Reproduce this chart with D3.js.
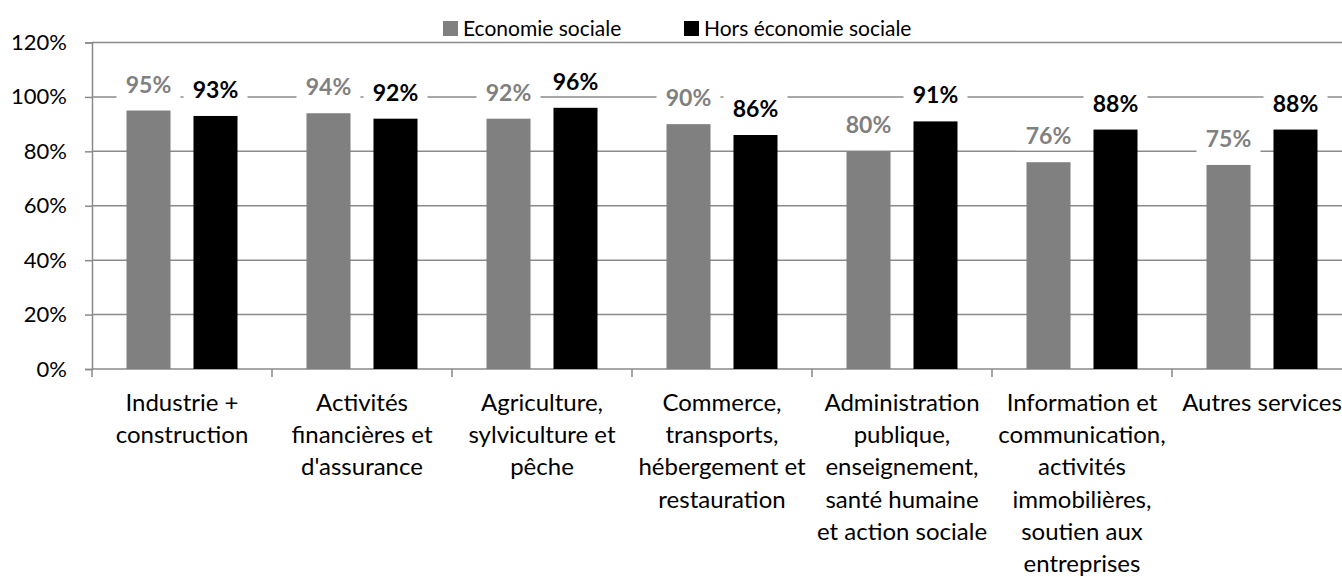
<!DOCTYPE html>
<html>
<head>
<meta charset="utf-8">
<script src="https://cdnjs.cloudflare.com/ajax/libs/d3/7.8.5/d3.min.js"></script>
<style>
body{margin:0;background:#fff;}
svg{display:block;font-family:Lato,"Open Sans",sans-serif;}
.grid line{stroke:#8a8a8a;stroke-width:1.5;}
.tick text{fill:#000;}
</style>
</head>
<body>
<svg id="chart" width="1342" height="577"></svg>
<script>
var svgWidth=1342;
var svgHeight=577;
var plotLeft=92, plotRight=1352, plotTop=42.5, plotBottom=369;

var categories=[
    ["Industrie +","construction"],
    ["Activités","financières et","d'assurance"],
    ["Agriculture,","sylviculture et","pêche"],
    ["Commerce,","transports,","hébergement et","restauration"],
    ["Administration","publique,","enseignement,","santé humaine","et action sociale"],
    ["Information et","communication,","activités","immobilières,","soutien aux","entreprises"],
    ["Autres services"]
];
var seriesNames=["Economie sociale","Hors économie sociale"];
var seriesColors=["#808080","#000000"];
var ecoSociale=[95,94,92,90,80,76,75];
var horsEco=[93,92,96,86,91,88,88];
var yTicks=[0,20,40,60,80,100,120];

var svg=d3.select("#chart");
var catIdx=d3.range(categories.length);

var x=d3.scaleBand().domain(catIdx).range([plotLeft,plotRight]);
var xSub=d3.scaleBand().domain([0,1]).range([0,x.bandwidth()]).paddingInner(0.343).paddingOuter(0.515);
var y=d3.scaleLinear().domain([0,120]).range([plotBottom,plotTop]);

// grid
svg.append("g").attr("class","grid")
    .selectAll("line").data(yTicks.slice(1)).enter()
    .append("line")
    .attr("x1",plotLeft).attr("x2",plotRight)
    .attr("y1",function(d){return y(d);}).attr("y2",function(d){return y(d);});

// y axis
var yAxis=svg.append("g")
    .attr("transform","translate("+plotLeft+",0)")
    .call(d3.axisLeft(y).tickValues(yTicks).tickSize(7).tickPadding(18).tickFormat(function(d){return d+"%";}));
yAxis.select(".domain").attr("stroke","#8a8a8a").attr("stroke-width",1.5);
yAxis.selectAll(".tick line").attr("stroke","#8a8a8a").attr("stroke-width",1.5);
yAxis.selectAll(".tick text").attr("font-size",22).attr("font-family","Lato");

// x axis line + ticks at band edges
svg.append("line").attr("x1",plotLeft).attr("x2",plotRight).attr("y1",plotBottom).attr("y2",plotBottom)
    .attr("stroke","#8a8a8a").attr("stroke-width",1.5);
svg.append("g").selectAll("line").data(d3.range(categories.length+1)).enter()
    .append("line")
    .attr("x1",function(d){return plotLeft+d*x.step();}).attr("x2",function(d){return plotLeft+d*x.step();})
    .attr("y1",plotBottom).attr("y2",plotBottom+8)
    .attr("stroke","#8a8a8a").attr("stroke-width",1.5);

// bars
var allSeries=[ecoSociale,horsEco];
allSeries.forEach(function(vals,s){
    var g=svg.append("g");
    g.selectAll("rect.bar").data(vals).enter()
        .append("rect")
        .attr("class","bar")
        .attr("x",function(d,i){return x(i)+xSub(s);})
        .attr("width",xSub.bandwidth())
        .attr("y",function(d){return y(d);})
        .attr("height",function(d){return plotBottom-y(d);})
        .attr("fill",seriesColors[s]);
    // label boxes (hide grid behind labels)
    g.selectAll("rect.lbox").data(vals).enter()
        .append("rect")
        .attr("class","lbox")
        .attr("x",function(d,i){return x(i)+xSub(s)+xSub.bandwidth()/2-32;})
        .attr("y",function(d){return y(d)-18-24;})
        .attr("width",64).attr("height",30)
        .attr("fill","#fff");
    g.selectAll("text").data(vals).enter()
        .append("text")
        .attr("x",function(d,i){return x(i)+xSub(s)+xSub.bandwidth()/2;})
        .attr("y",function(d){return y(d)-18;})
        .attr("text-anchor","middle")
        .attr("font-size",23).attr("font-weight","bold")
        .attr("fill",seriesColors[s])
        .text(function(d){return d+"%";});
});

// category labels
var catG=svg.append("g").selectAll("text").data(categories).enter()
    .append("text")
    .attr("text-anchor","middle")
    .attr("font-size",24)
    .attr("fill","#000");
catG.selectAll("tspan").data(function(d,i){return d.map(function(t){return {t:t,i:i};});}).enter()
    .append("tspan")
    .attr("x",function(d){return x(d.i)+x.bandwidth()/2;})
    .attr("y",function(d,j){return 411+j*32.2;})
    .text(function(d){return d.t;});

// legend
var legX=[443,684];
seriesNames.forEach(function(n,s){
    svg.append("rect").attr("x",legX[s]).attr("y",21).attr("width",15).attr("height",15).attr("fill",seriesColors[s]);
    svg.append("text").attr("x",legX[s]+20).attr("y",36).attr("font-size",21).attr("fill","#000").text(n);
});
</script>
</body>
</html>
